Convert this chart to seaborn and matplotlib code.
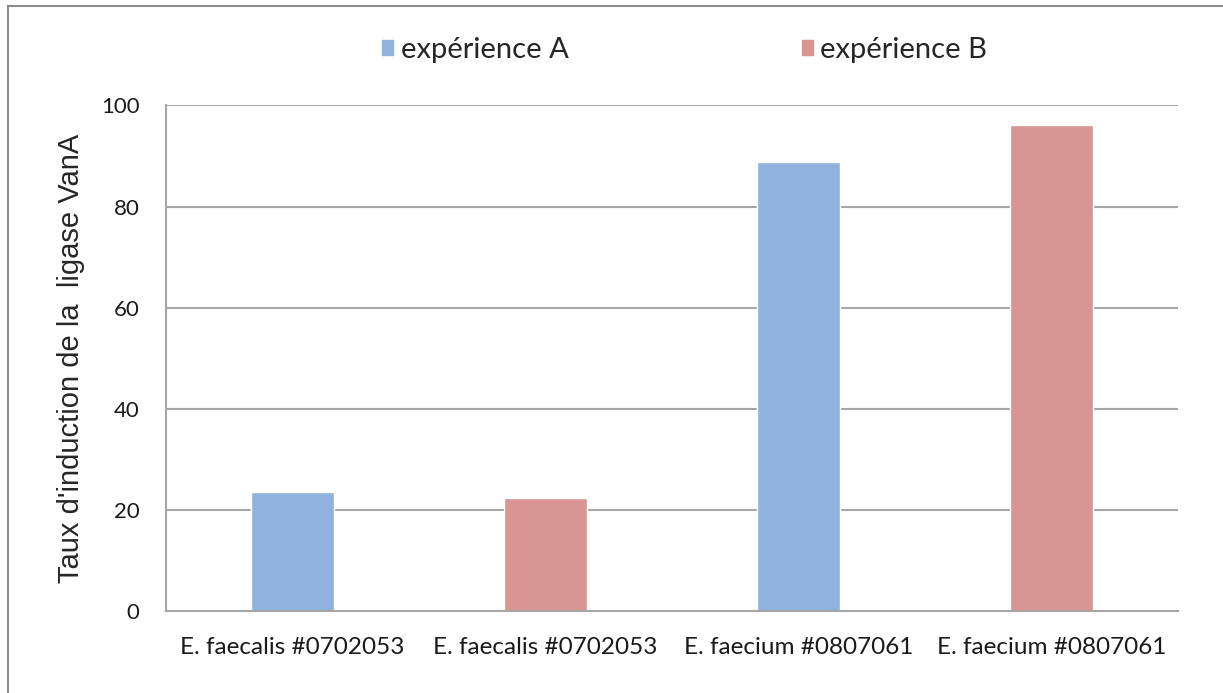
import matplotlib
matplotlib.use("Agg")
import matplotlib.pyplot as plt
import seaborn as sns
import pandas as pd
from matplotlib.patches import Patch, Rectangle

# dane
souches = ["E. faecalis #0702053", "E. faecalis #0702053",
           "E. faecium #0807061", "E. faecium #0807061"]
experiences = ["expérience A", "expérience B", "expérience A", "expérience B"]
taux = [23.5, 22.4, 88.8, 96.2]
y_ticks = [0, 20, 40, 60, 80, 100]

couleurs = {"expérience A": "#8fb3de", "expérience B": "#d99594"}
gris = "#a6a6a6"

sns.set_style("white")
plt.rcParams["font.family"] = ["Lato", "DejaVu Sans"]

df = pd.DataFrame({"pos": range(len(taux)), "taux": taux, "exp": experiences})

fig = plt.figure(figsize=(12.23, 6.93), dpi=100)
ax = fig.add_axes([0.1357, 0.1183, 0.8275, 0.7295])

sns.barplot(data=df, x="pos", y="taux", hue="exp", palette=couleurs, saturation=1,
            dodge=False, width=0.33, legend=False, ax=ax, native_scale=True)

ax.set_xlim(-0.5, len(taux) - 0.5)
ax.set_ylim(0, 100)
ax.set_yticks(y_ticks)
ax.yaxis.grid(True, color=gris, linewidth=1.5)
ax.set_axisbelow(True)

# etykiety kategorii pośrodku, kreski na granicach
ax.set_xticks([i - 0.5 for i in range(len(taux) + 1)])
ax.set_xticklabels([])
ax.set_xticks(range(len(taux)), minor=True)
ax.set_xticklabels(souches, minor=True, fontsize=17.5, color="#1a1a1a")
ax.tick_params(axis="x", which="minor", length=0, pad=19)
ax.tick_params(axis="x", which="major", length=7, width=1.5, color=gris, direction="out")
ax.tick_params(axis="y", length=7, width=1.5, color=gris, direction="out",
               labelsize=16, labelcolor="#1a1a1a", pad=12)

for s in ["top", "right"]:
    ax.spines[s].set_visible(False)
for s in ["left", "bottom"]:
    ax.spines[s].set_color(gris)
    ax.spines[s].set_linewidth(1.5)

ax.set_xlabel("")
ax.set_ylabel("Taux d'induction de la  ligase VanA", fontsize=21,
              family="Liberation Sans")
ax.yaxis.set_label_coords(-0.08, 0.5)

handles = [Patch(color=couleurs[k]) for k in ["expérience A", "expérience B"]]
fig.legend(handles, ["expérience A", "expérience B"], loc="center",
           bbox_to_anchor=(0.560, 0.928), ncol=2, frameon=False, fontsize=21,
           handlelength=0.38, handleheight=0.38, handletextpad=0.25, columnspacing=8.0)

# ramka obszaru wykresu
fig.patches.append(Rectangle((0.0065, -0.01), 1.1, 1.0013, transform=fig.transFigure,
                             fill=False, edgecolor="#8c8c8c", linewidth=1.5))

fig.savefig("out.png", dpi=100)
